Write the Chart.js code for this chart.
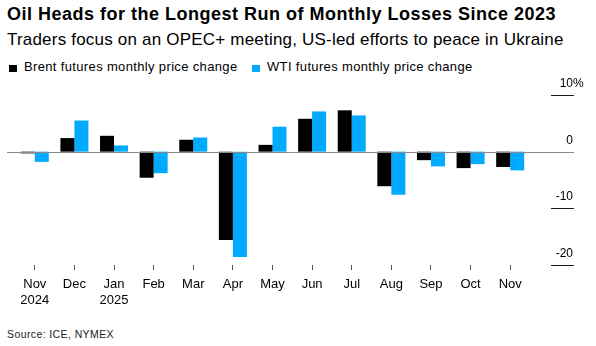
<!DOCTYPE html>
<html>
<head>
<meta charset="utf-8">
<script src="https://cdn.jsdelivr.net/npm/chart.js@4"></script>
<style>
	html, body { margin: 0; padding: 0; background: #fff; }
	body { width: 596px; height: 346px; position: relative; overflow: hidden; font-family: 'Liberation Sans', Arial, sans-serif; color: #000; }
	.txt { position: absolute; left: 7px; white-space: nowrap; line-height: 1; }
	.title { top: 5px; font-size: 18px; font-weight: bold; letter-spacing: 0.5px; }
	.subtitle { top: 31px; font-size: 17px; letter-spacing: 0.2px; }
	.legend { top: 60px; font-size: 13px; left: 9px; letter-spacing: 0.35px; }
	.legendItem { position: absolute; top: 0; }
	.legendSquare { position: absolute; top: 5px; width: 8px; height: 7px; }
	.source { top: 329px; font-size: 10.5px; color: #222; letter-spacing: 0.4px; }
	#chart { position: absolute; left: 0; top: 0; }
</style>
</head>
<body>
<div class="txt title">Oil Heads for the Longest Run of Monthly Losses Since 2023</div>
<div class="txt subtitle">Traders focus on an OPEC+ meeting, US-led efforts to peace in Ukraine</div>
<div class="txt legend" id="legend"></div>
<div class="txt source">Source: ICE, NYMEX</div>
<canvas id="chart" width="596" height="346"></canvas>
<script>
// monthly labels, second line marks the year change
const months = [['Nov', '2024'], 'Dec', ['Jan', '2025'], 'Feb', 'Mar', 'Apr', 'May', 'Jun', 'Jul', 'Aug', 'Sep', 'Oct', 'Nov'];

// monthly price change, %
const brentChange = [-0.3, 2.4, 2.8, -4.6, 2.1, -15.6, 1.2, 5.8, 7.3, -6.1, -1.5, -2.9, -2.7];
const wtiChange = [-1.8, 5.5, 1.1, -3.8, 2.5, -18.6, 4.4, 7.1, 6.4, -7.6, -2.6, -2.2, -3.3];

const yTicks = [10, 0, -10, -20];

const seriesNames = ['Brent futures monthly price change', 'WTI futures monthly price change'];
const seriesColors = ['#000000', '#00aaff'];

// legend in html, left aligned above the chart
let legendEl = document.getElementById('legend');
let legendOffsets = [0, 243];
seriesNames.forEach((name, idx) => {
	let item = document.createElement('div');
	item.className = 'legendItem';
	item.style.left = legendOffsets[idx] + 'px';
	item.innerHTML = `<span class='legendSquare' style='background: ${seriesColors[idx]}'></span><span style='padding-left: 15px'>${name}</span>`;
	legendEl.appendChild(item);
});

// zero line across the chart + short right-side ticks with labels
let rightAxis = {
	id: 'rightAxis',
	afterDatasetsDraw (chart) {
		let { ctx, chartArea, scales: { y } } = chart;
		let x1 = chartArea.right + 21;
		let x2 = chartArea.right + 44;
		ctx.save();
		ctx.font = '12px "Liberation Sans", Arial, sans-serif';
		ctx.textBaseline = 'alphabetic';
		yTicks.forEach((val) => {
			let py = Math.round(y.getPixelForValue(val)) + 0.5;
			ctx.beginPath();
			if (val === 0) {
				ctx.moveTo(7, py);
				ctx.strokeStyle = '#8a8a8a';
			} else {
				ctx.moveTo(x1, py);
				ctx.strokeStyle = '#1a1a1a';
			}
			ctx.lineTo(x2, py);
			ctx.lineWidth = 1;
			ctx.stroke();

			ctx.fillStyle = '#000';
			ctx.textAlign = 'right';
			ctx.fillText(String(val), x2 - 1, py - 8.5);
			if (val === yTicks[0]) {
				ctx.textAlign = 'left';
				ctx.fillText('%', x2 - 1, py - 8.5);
			}
		});
		ctx.restore();
	},
};

new Chart(document.getElementById('chart'), {
	type: 'bar',
	data: {
		labels: months,
		datasets: [
			{ label: seriesNames[0], data: brentChange, backgroundColor: seriesColors[0] },
			{ label: seriesNames[1], data: wtiChange, backgroundColor: seriesColors[1] },
		],
	},
	options: {
		responsive: false,
		animation: false,
		devicePixelRatio: 1,
		categoryPercentage: 0.707,
		barPercentage: 1,
		layout: {
			padding: { left: 15, right: 66, top: 95, bottom: 0 },
		},
		plugins: {
			legend: { display: false },
			tooltip: { enabled: false },
		},
		scales: {
			x: {
				grid: {
					offset: false,
					drawOnChartArea: false,
					drawTicks: true,
					tickLength: 5,
					color: '#555',
				},
				border: { display: false },
				ticks: {
					color: '#000',
					padding: 7,
					maxRotation: 0,
					autoSkip: false,
					font: { family: '"Liberation Sans", Arial, sans-serif', size: 13, lineHeight: 1.2 },
				},
				afterFit (scale) {
					scale.height = 81;
				},
			},
			y: {
				display: false,
				min: -20,
				max: 10,
			},
		},
	},
	plugins: [rightAxis],
});
</script>
</body>
</html>
